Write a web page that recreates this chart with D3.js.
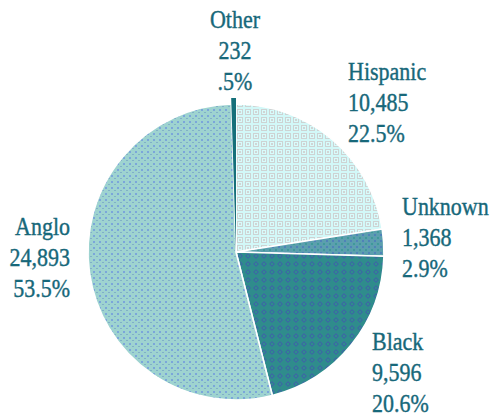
<!DOCTYPE html>
<html>
<head>
<meta charset="utf-8">
<script src="https://cdn.jsdelivr.net/npm/d3@7"></script>
<style>
  html, body { margin: 0; padding: 0; background: #ffffff; }
  svg { display: block; }
  .lbl { font-family: "Liberation Serif", "DejaVu Serif", serif; font-size: 22px; fill: #17687a; stroke: #17687a; stroke-width: 0.35px; }
</style>
</head>
<body>
<script>
// Enrollment by ethnicity
const groups  = ["Hispanic", "Unknown", "Black", "Anglo", "Other"];
const counts  = [10485, 1368, 9596, 24893, 232];
const countLabels = ["10,485", "1,368", "9,596", "24,893", "232"];
const pctLabels   = ["22.5%", "2.9%", "20.6%", "53.5%", ".5%"];

const W = 490, H = 418;
const cx = 236, cy = 252, R = 148;

// label placement (anchor point, text-anchor)
const labelLayout = {
  Hispanic: { x: 348, y: 80,  anchor: "start" },
  Unknown:  { x: 402, y: 215, anchor: "start" },
  Black:    { x: 372, y: 350, anchor: "start" },
  Anglo:    { x: 70,  y: 235, anchor: "end" },
  Other:    { x: 235, y: 28,  anchor: "middle" }
};
const lineGap = 31;

const svg = d3.select("body").append("svg")
  .attr("width", W).attr("height", H);

// fill textures
const defs = svg.append("defs");

function tile(id, size, bg, draw) {
  const p = defs.append("pattern").attr("id", id)
    .attr("patternUnits", "userSpaceOnUse")
    .attr("width", size).attr("height", size);
  p.append("rect").attr("width", size).attr("height", size).attr("fill", bg);
  draw(p);
}

tile("texHispanic", 8, "#d2f8f8", p => {
  p.append("rect").attr("x", 1).attr("y", 1).attr("width", 6).attr("height", 6).attr("fill", "#cdd3d3");
  p.append("rect").attr("x", 2).attr("y", 2).attr("width", 4).attr("height", 4).attr("fill", "#d8fbfb");
  p.append("rect").attr("x", 3).attr("y", 3).attr("width", 2).attr("height", 2).attr("fill", "#cfd5d5");
});
tile("texUnknown", 6, "#5b9fae", p => {
  p.append("rect").attr("x", 0).attr("y", 0).attr("width", 2).attr("height", 2).attr("fill", "#4f82b8");
  p.append("rect").attr("x", 3).attr("y", 3).attr("width", 2).attr("height", 2).attr("fill", "#3f9a9a");
});
tile("texBlack", 8, "#2f8c8c", p => {
  p.append("path").attr("d", "M4,1 L7,4 L4,7 L1,4 Z").attr("fill", "#3a6aa2");
  p.append("rect").attr("x", 3).attr("y", 3).attr("width", 2).attr("height", 2).attr("fill", "#2f8c8c");
});
tile("texAnglo", 6, "#9ed3d0", p => {
  p.append("rect").attr("x", 1).attr("y", 1).attr("width", 2).attr("height", 2).attr("fill", "#7ba6da");
  p.append("rect").attr("x", 4).attr("y", 4).attr("width", 2).attr("height", 1).attr("fill", "#80b0c8");
});

const fills = {
  Hispanic: "url(#texHispanic)",
  Unknown:  "url(#texUnknown)",
  Black:    "url(#texBlack)",
  Anglo:    "url(#texAnglo)",
  Other:    "#15707a"
};

const rows = groups.map((g, i) => ({ name: g, value: counts[i], count: countLabels[i], pct: pctLabels[i] }));

const pie = d3.pie().sort(null).value(d => d.value).startAngle(0).endAngle(2 * Math.PI);
const arcs = pie(rows);

const arc = d3.arc().innerRadius(0).outerRadius(d => d.data.name === "Other" ? R + 6 : R);

const g = svg.append("g").attr("transform", `translate(${cx},${cy})`);

g.selectAll("path.slice")
  .data(arcs)
  .join("path")
  .attr("class", "slice")
  .attr("d", arc)
  .attr("fill", d => fills[d.data.name])
  .attr("stroke", d => d.data.name === "Other" ? "none" : "#ffffff")
  .attr("stroke-width", 1.6)
  .attr("stroke-linejoin", "round");

// bring the thin slice forward so its edge stays visible
g.selectAll("path.slice").filter(d => d.data.name === "Other").raise();

// labels: name / count / percent
const lbl = svg.append("g");
rows.forEach(r => {
  const L = labelLayout[r.name];
  [r.name, r.count, r.pct].forEach((t, k) => {
    const y = L.y + k * lineGap;
    lbl.append("text")
      .attr("class", "lbl")
      .attr("text-anchor", L.anchor)
      .attr("transform", `translate(${L.x},${y}) scale(1,1.12)`)
      .text(t);
  });
});
</script>
</body>
</html>
